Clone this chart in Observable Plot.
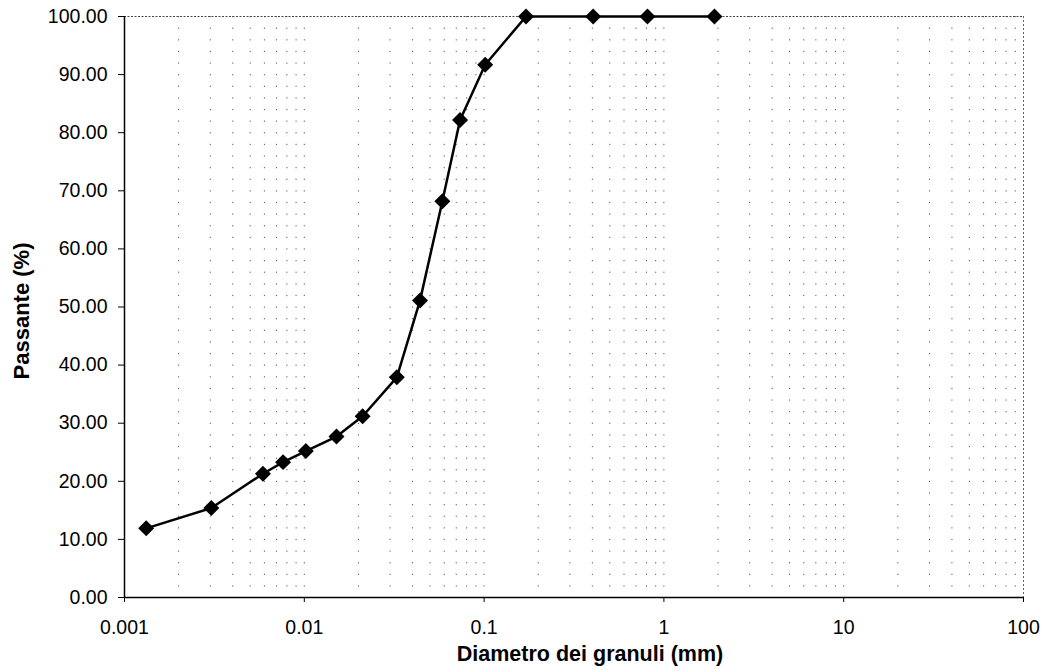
<!DOCTYPE html>
<html>
<head>
<meta charset="utf-8">
<script src="https://cdn.jsdelivr.net/npm/d3@7"></script>
<script src="https://cdn.jsdelivr.net/npm/@observablehq/plot@0.6"></script>
<style>
  html, body { margin: 0; padding: 0; background: #fff; }
  #chart svg { display: block; }
</style>
</head>
<body>
<div id="chart"></div>
<script>
// Grain size distribution (granulometric curve)
const diametro = [0.00132, 0.00304, 0.00589, 0.00762, 0.0102, 0.0151, 0.0211, 0.0327, 0.0440, 0.0586, 0.0735, 0.1014, 0.171, 0.404, 0.81, 1.91];
const passante = [11.9, 15.4, 21.3, 23.3, 25.2, 27.7, 31.2, 37.9, 51.1, 68.2, 82.2, 91.7, 100, 100, 100, 100];

const xTicks = [0.001, 0.01, 0.1, 1, 10, 100];
const xTickLabels = ["0.001", "0.01", "0.1", "1", "10", "100"];
const yTicks = [0, 10, 20, 30, 40, 50, 60, 70, 80, 90, 100];

const xTitle = "Diametro dei granuli (mm)";
const yTitle = "Passante (%)";

const data = diametro.map((d, i) => ({d, p: passante[i]}));

// minor log grid positions (1..9 per decade)
const gridX = [];
for (let k = 0; k < xTicks.length - 1; k++) {
  for (let m = 1; m <= 9; m++) gridX.push(xTicks[k] * m);
}

const font = "'Liberation Sans', Arial, sans-serif";

const chart = Plot.plot({
  width: 1047,
  height: 670,
  marginLeft: 124,
  marginRight: 24,
  marginTop: 16,
  marginBottom: 73,
  style: {fontFamily: font, fontSize: "19.5px", color: "#000", background: "#fff"},
  x: {type: "log", domain: [0.001, 100]},
  y: {domain: [0, 100]},
  marks: [
    Plot.ruleX(gridX, {stroke: "#444", strokeWidth: 1, strokeDasharray: "1.2,10.42", strokeOpacity: 0.9}),
    Plot.ruleY([100], {stroke: "#444", strokeWidth: 1, strokeDasharray: "2,1.5"}),
    Plot.ruleX([100], {stroke: "#666", strokeWidth: 1, strokeDasharray: "2,2"}),
    Plot.axisX({
      ticks: xTicks,
      tickFormat: d => xTickLabels[xTicks.findIndex(t => Math.abs(Math.log10(t) - Math.log10(d)) < 1e-6)],
      tickSize: 5,
      tickPadding: 18,
      label: null,
      fontSize: 19.5
    }),
    Plot.axisY({
      ticks: yTicks,
      tickFormat: d => d.toFixed(2),
      tickSize: 6,
      tickPadding: 11,
      label: null,
      fontSize: 19.5
    }),
    Plot.ruleX([0.001], {stroke: "#000", strokeWidth: 1.5}),
    Plot.ruleY([0], {stroke: "#000", strokeWidth: 1.5}),
    Plot.line(data, {x: "d", y: "p", stroke: "#000", strokeWidth: 2.5}),
    Plot.dot(data, {x: "d", y: "p", symbol: d3.symbolDiamond2, r: 7.2, fill: "#000", stroke: "none"}),
    Plot.text([xTitle], {
      frameAnchor: "bottom", text: d => d, dx: 16, dy: 57,
      textAnchor: "middle", fontWeight: "bold", fontSize: 21.5, lineAnchor: "middle", fill: "#000"
    }),
    Plot.text([yTitle], {
      frameAnchor: "left", text: d => d, dx: -103, dy: 4,
      textAnchor: "middle", rotate: -90, fontWeight: "bold", fontSize: 22, lineAnchor: "middle", fill: "#000"
    })
  ]
});

document.getElementById("chart").appendChild(chart);
</script>
</body>
</html>
